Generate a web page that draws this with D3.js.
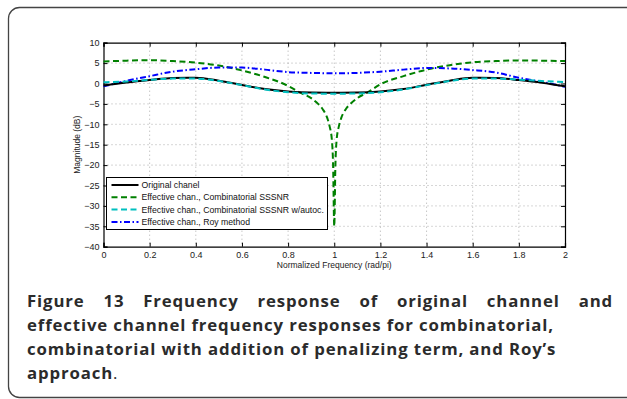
<!DOCTYPE html>
<html>
<head>
<meta charset="utf-8">
<script src="https://cdn.jsdelivr.net/npm/d3@7"></script>
<style>
  body { margin: 0; background: #fff; }
  svg { display: block; }
</style>
</head>
<body>
<svg id="chart" width="627" height="399"></svg>
<script>
// frequency grid (rad/pi)
const freq = [0, 0.1, 0.2, 0.3, 0.4, 0.5, 0.6, 0.7, 0.8, 0.9, 1.0, 1.1, 1.2, 1.3, 1.4, 1.5, 1.6, 1.7, 1.8, 1.9, 2.0];
const originalDb = [-0.5, 0.25, 0.85, 1.35, 1.4, 0.7, -0.35, -1.35, -1.95, -2.2, -2.25, -2.2, -1.95, -1.35, -0.3, 0.7, 1.4, 1.35, 0.85, 0.2, -0.7];
const autocDb = [0.3, 0.5, 0.9, 1.2, 1.2, 0.6, -0.4, -1.45, -2.15, -2.45, -2.5, -2.45, -2.15, -1.45, -0.4, 0.6, 1.2, 1.2, 0.95, 0.6, 0.35];
const royDb = [-0.7, 0.65, 1.8, 2.9, 3.5, 3.9, 3.9, 3.4, 2.8, 2.6, 2.5, 2.6, 2.9, 3.4, 3.8, 3.7, 3.3, 2.7, 1.4, 0.4, -0.8];
// combinatorial SSSNR has a deep notch at 1, so it is sampled finer there
const combFreq = [0, 0.1, 0.2, 0.3, 0.4, 0.5, 0.6, 0.7, 0.8, 0.85, 0.9, 0.93, 0.95, 0.97, 0.98, 0.99, 0.995, 1.0,
                  1.005, 1.01, 1.02, 1.03, 1.05, 1.07, 1.1, 1.15, 1.2, 1.3, 1.4, 1.5, 1.6, 1.7, 1.8, 1.9, 2.0];
const combDb = [5.4, 5.6, 5.7, 5.5, 5.1, 4.4, 3.2, 1.6, -0.6, -2.2, -3.6, -5.0, -6.3, -8.5, -10.5, -14, -20, -35,
                -20, -14, -10.5, -8.5, -6.3, -5.0, -3.6, -2.0, -0.2, 1.8, 3.4, 4.5, 5.2, 5.5, 5.65, 5.6, 5.5];

const xTicks = [0, 0.2, 0.4, 0.6, 0.8, 1, 1.2, 1.4, 1.6, 1.8, 2];
const yTicks = [10, 5, 0, -5, -10, -15, -20, -25, -30, -35, -40];

const legendLabels = [
  "Original chanel",
  "Effective chan., Combinatorial SSSNR",
  "Effective chan., Combinatorial SSSNR w/autoc.",
  "Effective chan., Roy method"
];

const captionLines = [
  "Figure 13 Frequency response of original channel and",
  "effective channel frequency responses for combinatorial,",
  "combinatorial with addition of penalizing term, and Roy\u2019s",
  "approach"
];

const svg = d3.select("#chart");

// outer frame
svg.append("rect")
  .attr("x", 8.5).attr("y", 7.5)
  .attr("width", 630).attr("height", 390)
  .attr("rx", 11).attr("ry", 11)
  .attr("fill", "none")
  .attr("stroke", "#444")
  .attr("stroke-width", 1.3);

const plot = { left: 103.5, right: 565, top: 42.7, bottom: 246.7 };
const x = d3.scaleLinear().domain([0, 2]).range([plot.left, plot.right]);
const y = d3.scaleLinear().domain([-40, 10]).range([plot.bottom, plot.top]);

const g = svg.append("g");
const axisFont = "'Liberation Sans', Arial, Helvetica, sans-serif";
const fmt = d => (d < 0 ? "\u2212" + Math.abs(d) : String(d));

// dotted grid
g.selectAll(".gx").data(xTicks.slice(1, -1)).enter().append("line")
  .attr("x1", d => x(d)).attr("x2", d => x(d))
  .attr("y1", plot.top).attr("y2", plot.bottom)
  .attr("stroke", "#999").attr("stroke-width", 0.8).attr("stroke-dasharray", "1,3");
g.selectAll(".gy").data(yTicks.slice(1, -1)).enter().append("line")
  .attr("y1", d => y(d)).attr("y2", d => y(d))
  .attr("x1", plot.left).attr("x2", plot.right)
  .attr("stroke", "#999").attr("stroke-width", 0.8).attr("stroke-dasharray", "1,3");

// axes, ticks pointing inward on all four sides
const tickLen = 4;
const axB = g.append("g").attr("transform", `translate(0,${plot.bottom})`)
  .call(d3.axisBottom(x).tickValues(xTicks).tickSize(-tickLen).tickPadding(5).tickFormat(d => d));
const axT = g.append("g").attr("transform", `translate(0,${plot.top})`)
  .call(d3.axisTop(x).tickValues(xTicks).tickSize(-tickLen).tickFormat(""));
const axL = g.append("g").attr("transform", `translate(${plot.left},0)`)
  .call(d3.axisLeft(y).tickValues(yTicks).tickSize(-tickLen).tickPadding(4).tickFormat(fmt));
const axR = g.append("g").attr("transform", `translate(${plot.right},0)`)
  .call(d3.axisRight(y).tickValues(yTicks).tickSize(-tickLen).tickFormat(""));
[axB, axT, axL, axR].forEach(a => {
  a.select(".domain").attr("stroke", "#000").attr("stroke-width", 1.2);
  a.selectAll("line").attr("stroke", "#000");
  a.selectAll("text").attr("font-family", axisFont).attr("font-size", 9).attr("fill", "#222");
});

// axis labels
svg.append("text")
  .attr("x", (plot.left + plot.right) / 2).attr("y", 267.5)
  .attr("text-anchor", "middle")
  .attr("font-family", axisFont).attr("font-size", 8.5).attr("fill", "#222")
  .text("Normalized Frequency (rad/pi)");
svg.append("text")
  .attr("transform", `translate(80,${(plot.top + plot.bottom) / 2}) rotate(-90)`)
  .attr("text-anchor", "middle")
  .attr("font-family", axisFont).attr("font-size", 8.5).attr("fill", "#222")
  .text("Magnitude (dB)");

// series
const series = [
  { xs: freq, ys: originalDb, color: "#000000", dash: null, width: 2 },
  { xs: combFreq, ys: combDb, color: "#008000", dash: "6,3.5", width: 2 },
  { xs: freq, ys: autocDb, color: "#00bfbf", dash: "6,3.5", width: 2 },
  { xs: freq, ys: royDb, color: "#0000ff", dash: "6,2.5,1.5,2.5", width: 2 }
];
const line = d3.line().x(d => x(d[0])).y(d => y(d[1])).curve(d3.curveMonotoneX);
const drawOrder = [1, 3, 0, 2];
drawOrder.forEach(i => {
  const s = series[i];
  g.append("path")
    .datum(s.xs.map((v, k) => [v, s.ys[k]]))
    .attr("d", line)
    .attr("fill", "none")
    .attr("stroke", s.color)
    .attr("stroke-width", s.width)
    .attr("stroke-dasharray", s.dash);
});

// legend
const lg = svg.append("g");
lg.append("rect")
  .attr("x", 106.5).attr("y", 177.5).attr("width", 221).attr("height", 52)
  .attr("fill", "#fff").attr("stroke", "#000").attr("stroke-width", 1);
legendLabels.forEach((label, i) => {
  const yy = 185 + i * 12.3;
  const s = series[i];
  lg.append("line")
    .attr("x1", 111.5).attr("x2", 138.5).attr("y1", yy).attr("y2", yy)
    .attr("stroke", s.color).attr("stroke-width", s.width)
    .attr("stroke-dasharray", s.dash);
  lg.append("text")
    .attr("x", 141.5).attr("y", yy).attr("dy", "0.35em")
    .attr("font-family", axisFont).attr("font-size", 8.7).attr("fill", "#111")
    .text(label);
});

// caption
const capFont = "'Open Sans', 'Noto Sans', sans-serif";
const capSize = 16.8;
const capLeft = 27, capRight = 613;
// letter spacing taken from the second line, which ends near x = 553
const probe = svg.append("text")
  .attr("font-family", capFont).attr("font-size", capSize).attr("font-weight", "bold")
  .text(captionLines[1]);
const pw = probe.node().getComputedTextLength();
probe.remove();
const ls = (553 - capLeft - pw) / (captionLines[1].length - 1);

captionLines.forEach((txt, i) => {
  const t = svg.append("text")
    .attr("x", capLeft).attr("y", 306.5 + i * 24)
    .attr("font-family", capFont).attr("font-size", capSize).attr("font-weight", "bold")
    .attr("letter-spacing", ls)
    .attr("fill", "#2b2b2b")
    .text(txt);
  if (i === 0) {
    // justify first line
    const w = t.node().getComputedTextLength();
    const gaps = txt.split(" ").length - 1;
    t.attr("word-spacing", (capRight - capLeft - w) / gaps);
  }
  if (i === captionLines.length - 1) {
    t.append("tspan").attr("font-weight", "normal").text(".");
  }
});
</script>
</body>
</html>
